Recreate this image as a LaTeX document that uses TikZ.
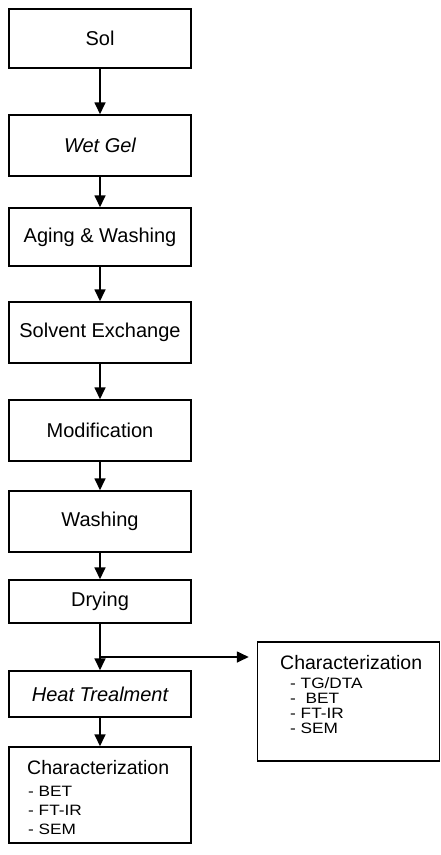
\documentclass[tikz,border=0pt]{standalone}
\usepackage{fontspec}
\setmainfont{Liberation Sans}
\newfontfamily\listfont[FakeStretch=1.15]{Liberation Sans}
\usetikzlibrary{arrows.meta}
\begin{document}
\begin{tikzpicture}[x=1pt,y=-1pt,
  box/.style={draw, line width=1.5pt, minimum width=182pt, inner sep=0pt, font=\fontsize{20}{24}\selectfont},
  flow/.style={line width=1.7pt, -{Triangle[length=12pt,width=11pt]}},
  head/.style={font=\fontsize{19.5}{22}\selectfont, anchor=base west, inner sep=0pt},
  item/.style={font=\listfont\fontsize{15}{17}\selectfont, anchor=base west, inner sep=0pt}]
\useasboundingbox (0,0) rectangle (441,855);
\node[box, minimum height=59pt] (sol) at (100,38.5) {Sol};
\node[box, minimum height=61pt] (wet) at (100,145.5) {\itshape Wet Gel};
\node[box, minimum height=58pt] (aging) at (100,237) {Aging \& Washing};
\node[box, minimum height=61pt] (solvent) at (100,332.5) {Solvent Exchange};
\node[box, minimum height=61pt] (modif) at (100,430.5) {Modification};
\node[box, minimum height=61pt] (washing) at (100,521.5) {Washing};
\node[box, minimum height=43pt] (drying) at (100,601.5) {Drying};
\node[box, minimum height=46pt] (heat) at (100,694) {\itshape Heat Trealment};
\node[box, minimum height=96pt] (charB) at (100,795) {};
\node[box, minimum height=119pt] (charR) at (348.5,701.5) {};
\coordinate (branch) at (100,657);

\node[head] (charBt) at (27,774) {Characterization};
\node[item] (charB1) at (28,796) {- BET};
\node[item] (charB2) at (28,815) {- FT-IR};
\node[item] (charB3) at (28,834) {- SEM};

\node[head] (charRt) at (280,669) {Characterization};
\node[item] (charR1) at (290,688) {- TG/DTA};
\node[item] (charR2) at (290,703) {-\ \ BET};
\node[item] (charR3) at (290,718) {- FT-IR};
\node[item] (charR4) at (290,733) {- SEM};

\draw[flow] (sol.south) -- (wet.north);
\draw[flow] (wet.south) -- (aging.north);
\draw[flow] (aging.south) -- (solvent.north);
\draw[flow] (solvent.south) -- (modif.north);
\draw[flow] (modif.south) -- (washing.north);
\draw[flow] (washing.south) -- (drying.north);
\draw[flow] (drying.south) -- (heat.north);
\draw[flow] (heat.south) -- (charB.north);
\draw[flow, shorten >=8pt] (branch) -- (charR.west |- branch);
\end{tikzpicture}
\end{document}
